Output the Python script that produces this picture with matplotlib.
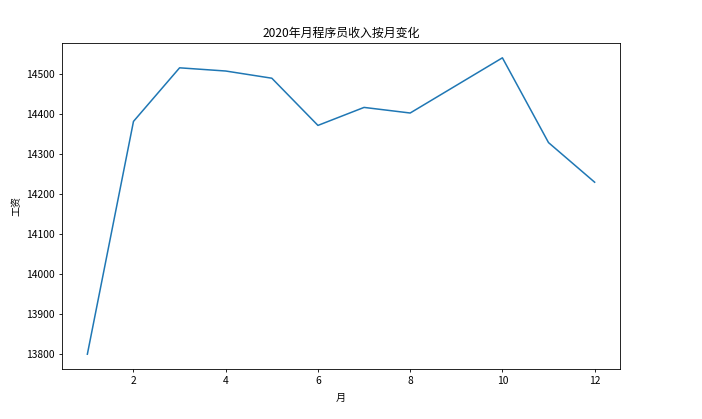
import matplotlib
matplotlib.use('Agg')
import matplotlib.pyplot as plt

plt.rcParams['font.family'] = ['Noto Sans CJK SC', 'DejaVu Sans']
plt.rcParams['axes.unicode_minus'] = False

# 每月平均工资
months = [1, 2, 3, 4, 5, 6, 7, 8, 9, 10, 11, 12]
salary = [13800, 14382, 14516, 14508, 14490, 14372, 14417, 14403, 14472, 14541, 14329, 14230]

fig = plt.figure(figsize=(7.02, 4.19), dpi=100)
ax = fig.add_axes([62 / 702, 1 - 369 / 419, 558 / 702, 326 / 419])

ax.plot(months, salary, color='#1f77b4', linewidth=1.1)
ax.set_title('2020年月程序员收入按月变化', fontsize=8.6, pad=4.5)
ax.set_xlabel('月', fontsize=7.2, labelpad=5)
ax.set_ylabel('工资', fontsize=7.2, labelpad=3)
ax.tick_params(labelsize=7.4, length=2.5, width=0.6, pad=2.5)
for s in ax.spines.values():
    s.set_linewidth(0.6)

fig.savefig('out.png', dpi=100)
